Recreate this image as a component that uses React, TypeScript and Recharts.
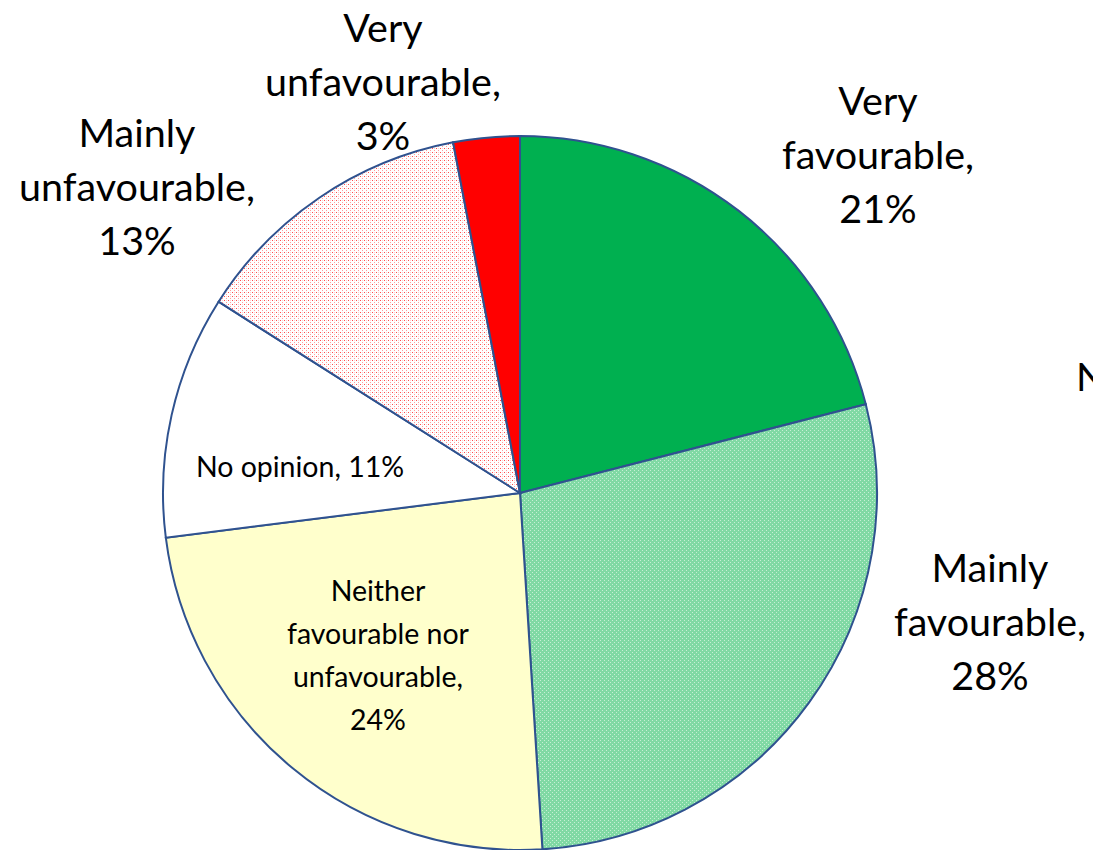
import { PieChart, Pie, Cell } from "recharts";

const categories = [
  "Very favourable",
  "Mainly favourable",
  "Neither favourable nor unfavourable",
  "No opinion",
  "Mainly unfavourable",
  "Very unfavourable",
];
const shares = [21, 28, 24, 11, 13, 3];
const fills = ["#00b050", "url(#greenDots)", "#ffffcc", "#ffffff", "url(#redDots)", "#ff0000"];

// label lines as Excel wrapped them, and where each label block sits relative to the pie centre
const labelLines = [
  ["Very", "favourable,", "21%"],
  ["Mainly", "favourable,", "28%"],
  ["Neither", "favourable nor", "unfavourable,", "24%"],
  ["No opinion, 11%"],
  ["Mainly", "unfavourable,", "13%"],
  ["Very", "unfavourable,", "3%"],
];
const labelOffsets = [
  [358, -340],
  [470, 127],
  [-142, 161],
  [-220, -27],
  [-383, -308],
  [-137, -413],
];
const insideLabel = [false, false, true, true, false, false];

const data = categories.map((name, i) => ({ name, value: shares[i] }));

const FONT = "Lato, 'Open Sans', sans-serif";

function renderLabel(props: any) {
  const { cx, cy, index } = props;
  const lines = labelLines[index];
  const [dx, dy] = labelOffsets[index];
  const small = insideLabel[index];
  const size = small ? 28.5 : 39.5;
  const lh = small ? 43 : 54;
  const x = cx + dx;
  const top = cy + dy - ((lines.length - 1) * lh) / 2;
  return (
    <text
      key={`lbl-${index}`}
      x={x}
      y={top}
      textAnchor="middle"
      dominantBaseline="central"
      fontFamily={FONT}
      fontSize={size}
      fill="#000"
    >
      {lines.map((l, j) => (
        <tspan key={j} x={x} y={top + j * lh}>
          {l}
        </tspan>
      ))}
    </text>
  );
}

export default function App() {
  return (
    <div style={{ position: "absolute", left: 0, top: 0, width: 1093, height: 850, background: "#fff", overflow: "hidden" }}>
      <PieChart width={1093} height={850} margin={{ top: 0, right: 0, bottom: 0, left: 0 }}>
        <defs>
          <pattern id="greenDots" width="4" height="4" patternUnits="userSpaceOnUse">
            <rect width="4" height="4" fill="#80d9a4" shapeRendering="crispEdges" />
            <rect x="0" y="0" width="1" height="1" fill="#c6efd5" shapeRendering="crispEdges" />
            <rect x="2" y="2" width="1" height="1" fill="#c6efd5" shapeRendering="crispEdges" />
          </pattern>
          <pattern id="redDots" width="4" height="4" patternUnits="userSpaceOnUse">
            <rect width="4" height="4" fill="#ffffff" shapeRendering="crispEdges" />
            <rect x="0" y="0" width="1" height="1" fill="#ff4d4d" shapeRendering="crispEdges" />
            <rect x="2" y="2" width="1" height="1" fill="#ff9e9e" shapeRendering="crispEdges" />
            <rect x="2" y="0" width="1" height="1" fill="#ffd0d0" shapeRendering="crispEdges" />
          </pattern>
        </defs>
        <Pie
          data={data}
          dataKey="value"
          nameKey="name"
          cx={520}
          cy={493}
          outerRadius={357}
          startAngle={90}
          endAngle={-270}
          stroke="#2f528f"
          strokeWidth={2}
          label={renderLabel}
          labelLine={false}
          isAnimationActive={false}
        >
          {data.map((d, i) => (
            <Cell key={d.name} fill={fills[i]} />
          ))}
        </Pie>
        <text x={1076} y={375} dominantBaseline="central" fontFamily={FONT} fontSize={39.5} fill="#000">
          N
        </text>
      </PieChart>
    </div>
  );
}
